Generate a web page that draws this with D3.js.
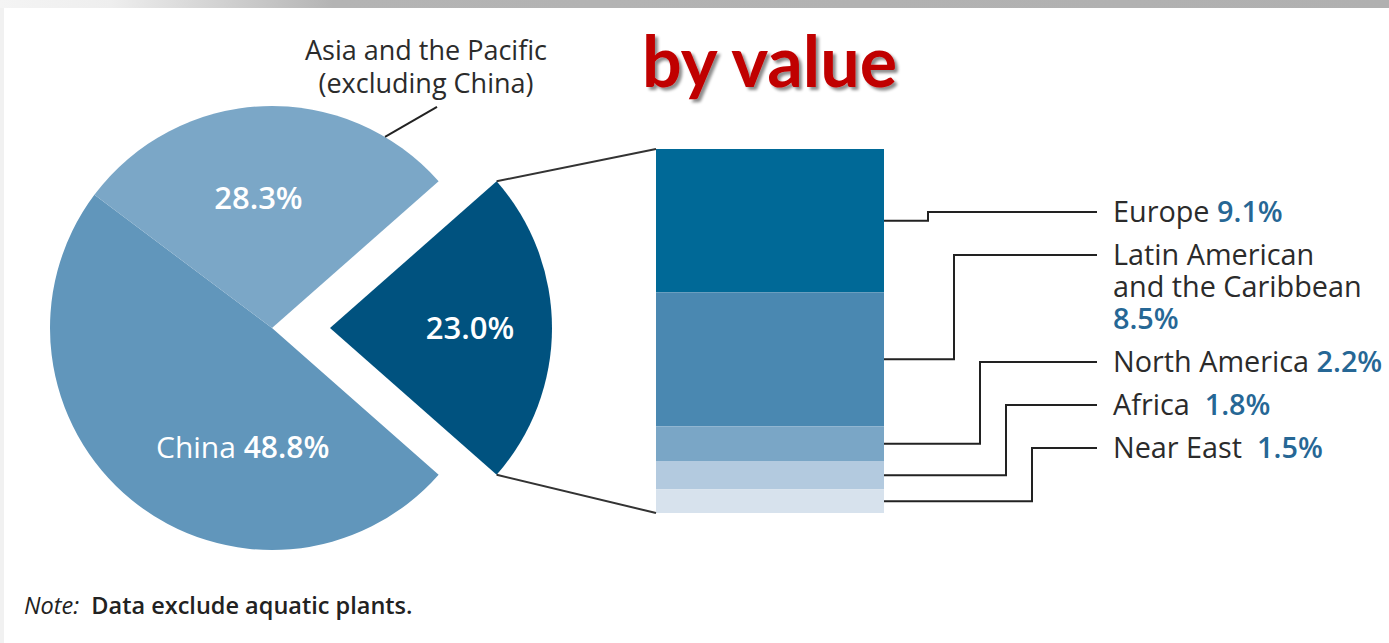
<!DOCTYPE html>
<html>
<head>
<meta charset="utf-8">
<script src="https://cdn.jsdelivr.net/npm/d3@7"></script>
<style>
  body { margin: 0; background: #fff; }
  svg { display: block; }
  text { white-space: pre; }
</style>
</head>
<body>
<svg id="chart" width="1389" height="643"></svg>
<script>
// Share of aquaculture production by value, by region
const pieNames  = ["Other regions", "China", "Asia and the Pacific"];
const pieValues = [23.0, 48.8, 28.3];
const pieColors = ["#00527f", "#6196bb", "#7ba7c7"];

const regionLines  = [["Europe"], ["Latin American", "and the Caribbean", ""], ["North America"], ["Africa "], ["Near East "]];
const regionValues = [9.1, 8.5, 2.2, 1.8, 1.5];
const regionColors = ["#006997", "#4a88b1", "#7aa6c6", "#b3cadf", "#d7e2ed"];

const titleText = "by value";
const asiaCaption = ["Asia and the Pacific", "(excluding China)"];
const noteLabel = "Note:";
const noteText = "Data exclude aquatic plants.";

const fmt = v => v.toFixed(1) + "%";

const svg = d3.select("#chart");
const W = 1389, H = 643;
const FONT = "'Open Sans', 'Noto Sans', sans-serif";

// frame: grey band along the top edge, faint rule on the left
const defs = svg.append("defs");
const bandGrad = defs.append("linearGradient").attr("id", "band").attr("x1", 0).attr("x2", 1);
bandGrad.append("stop").attr("offset", 0).attr("stop-color", "#f4f4f4");
bandGrad.append("stop").attr("offset", 0.08).attr("stop-color", "#eeeeee");
bandGrad.append("stop").attr("offset", 0.24).attr("stop-color", "#b4b4b4");
bandGrad.append("stop").attr("offset", 1).attr("stop-color", "#b0b0b0");
svg.append("rect").attr("x", 0).attr("y", 0).attr("width", W).attr("height", 8).attr("fill", "url(#band)");
svg.append("rect").attr("x", 0).attr("y", 8).attr("width", 4).attr("height", H - 8).attr("fill", "#f1f1f1");

const shadow = defs.append("filter").attr("id", "shadow").attr("x", "-10%").attr("y", "-20%").attr("width", "130%").attr("height", "150%");
shadow.append("feDropShadow").attr("dx", 3).attr("dy", 3).attr("stdDeviation", 1.6)
  .attr("flood-color", "#000").attr("flood-opacity", 0.45);

// ---- pie ----
const cx = 272, cy = 328, R = 222, explode = 58;
const total = d3.sum(pieValues);
const start = Math.PI / 2 - Math.PI * pieValues[0] / total;
const pie = d3.pie().sort(null).value(d => d).startAngle(start).endAngle(start + 2 * Math.PI);
const arcs = pie(pieValues);
const arc = d3.arc().innerRadius(0).outerRadius(R);
const polar = (a, r) => [Math.sin(a) * r, -Math.cos(a) * r];

const gPie = svg.append("g").attr("transform", `translate(${cx},${cy})`);
const offsets = arcs.map((d, i) => {
  if (i !== 0) return [0, 0];
  return polar((d.startAngle + d.endAngle) / 2, explode);
});
gPie.selectAll("path.slice").data(arcs).join("path")
  .attr("class", "slice")
  .attr("d", arc)
  .attr("fill", (d, i) => pieColors[i])
  .attr("transform", (d, i) => `translate(${offsets[i]})`);

// slice labels
const deg = Math.PI / 180;
const labelRadius = [140, 123, 131];
const labelShift = [0, -25.3 * deg, -3.7 * deg];
const labelPos = arcs.map((d, i) => {
  const p = polar((d.startAngle + d.endAngle) / 2 + labelShift[i], labelRadius[i]);
  return [p[0] + offsets[i][0], p[1] + offsets[i][1]];
});
function sliceLabel(i, prefix, size) {
  const t = gPie.append("text")
    .attr("x", labelPos[i][0]).attr("y", labelPos[i][1]).attr("dy", "0.36em")
    .attr("text-anchor", "middle").attr("fill", "#fff")
    .style("font-family", FONT).style("font-size", size + "px");
  if (prefix) t.append("tspan").attr("font-weight", 500).text(prefix + " ");
  t.append("tspan").attr("font-weight", 600).text(fmt(pieValues[i]));
}
sliceLabel(0, null, 31);
sliceLabel(1, pieNames[1], 30);
sliceLabel(2, null, 31);

// caption for the Asia slice with its leader
const leadA = 30.6 * deg;
const lp = polar(leadA, R);
gPie.append("line")
  .attr("x1", lp[0]).attr("y1", lp[1]).attr("x2", lp[0] + 52).attr("y2", lp[1] - 30)
  .attr("stroke", "#222").attr("stroke-width", 2);
svg.append("text").attr("text-anchor", "middle")
  .style("font-family", FONT).style("font-size", "27px").attr("font-weight", 500).attr("fill", "#2b2b2b")
  .selectAll("tspan").data(asiaCaption).join("tspan")
  .attr("x", 426).attr("y", (d, i) => 60 + i * 33).text(d => d);

// ---- stacked bar breaking down the exploded slice ----
const barX = 656, barW = 228, barTop = 149, barBottom = 513;
const y = d3.scaleLinear().domain([0, d3.sum(regionValues)]).range([barTop, barBottom]);
const cum = d3.cumsum(regionValues);
const segs = regionValues.map((v, i) => ({ v, y0: i ? cum[i - 1] : 0, y1: cum[i] }));
svg.selectAll("rect.seg").data(segs).join("rect")
  .attr("class", "seg")
  .attr("x", barX).attr("width", barW)
  .attr("y", d => y(d.y0)).attr("height", d => y(d.y1) - y(d.y0))
  .attr("fill", (d, i) => regionColors[i]);

// lines joining the slice edges to the bar corners
const s0 = arcs[0];
const tipTop = polar(s0.startAngle, R), tipBot = polar(s0.endAngle, R);
svg.append("line")
  .attr("x1", cx + offsets[0][0] + tipTop[0]).attr("y1", cy + tipTop[1])
  .attr("x2", barX).attr("y2", y(0))
  .attr("stroke", "#333").attr("stroke-width", 2);
svg.append("line")
  .attr("x1", cx + offsets[0][0] + tipBot[0]).attr("y1", cy + tipBot[1])
  .attr("x2", barX).attr("y2", y(d3.sum(regionValues)))
  .attr("stroke", "#333").attr("stroke-width", 2);

// region labels with elbow connectors
const labelX = 1113, lineEnd = 1097, rowGap = 44, lineGap = 32;
let rowY = 212;
const rows = regionLines.map((lines, i) => {
  const r = { top: rowY, lines };
  rowY += (lines.length - 1) * lineGap + rowGap - 1;
  return r;
});
rows.forEach((r, i) => {
  const from = (y(segs[i].y0) + y(segs[i].y1)) / 2;
  const elbow = 928 + i * 26;
  svg.append("path")
    .attr("d", `M${barX + barW},${from}H${elbow}V${r.top}H${lineEnd}`)
    .attr("fill", "none").attr("stroke", "#222").attr("stroke-width", 2);
  const t = svg.append("text").style("font-family", FONT).style("font-size", "28.8px");
  r.lines.forEach((ln, j) => {
    const last = j === r.lines.length - 1;
    const line = t.append("tspan").attr("x", labelX).attr("y", r.top + j * lineGap).attr("dy", "0.36em");
    if (ln !== "") {
      line.append("tspan").attr("fill", "#2b2b2b").attr("font-weight", 500).text(ln + (last ? " " : ""));
    }
    if (last) {
      line.append("tspan").attr("fill", "#266795").attr("font-weight", 600).text(fmt(regionValues[i]));
    }
  });
});

// heading
svg.append("text").attr("x", 642).attr("y", 87)
  .style("font-family", "Lato, 'Open Sans', sans-serif").style("font-size", "70px").style("font-weight", 700)
  .attr("fill", "#c00000").attr("filter", "url(#shadow)")
  .text(titleText);

// note
const note = svg.append("text").attr("x", 24).attr("y", 614)
  .style("font-family", FONT).style("font-size", "23.5px").attr("fill", "#222");
note.append("tspan").attr("font-style", "italic").text(noteLabel + "  ");
note.append("tspan").attr("font-weight", 600).text(noteText);
</script>
</body>
</html>
